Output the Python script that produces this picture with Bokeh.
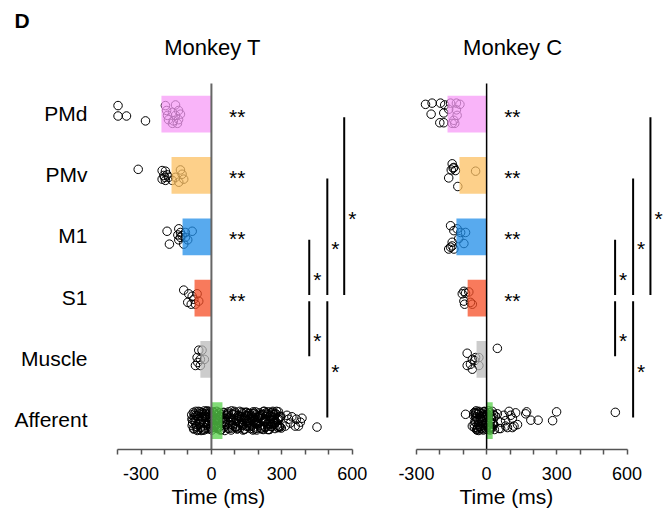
from bokeh.plotting import figure
from bokeh.layouts import row
from bokeh.models import Range1d, FixedTicker, Title
from bokeh.core.properties import value
from bokeh.embed import file_html
from bokeh.resources import INLINE

FONT = "Liberation Sans"

REGIONS = ["PMd", "PMv", "M1", "S1", "Muscle", "Afferent"]
BAR_COLORS = ["#F79BF7", "#FCC063", "#208EE8", "#F54E26", "#BBBBBB", "#58D04B"]

# Monkey T: median onset (ms) per region
T_BARS = [-213, -170, -123, -72, -47, 47]
# Monkey C
C_BARS = [-167, -116, -129, -81, -43, 26]

# ---- Monkey T individual units (ms) and vertical jitter (row units) ----
T_PMd_ms = [-398, -398, -362, -281, -196, -153, -140, -166, -187, -153, -132, -183, -162, -140, -166, -145, -191]
T_PMd_dy = [0.14, -0.03, -0.03, -0.11, 0.14, 0.15, 0.06, 0.03, -0.02, -0.02, 0.0, -0.09, -0.11, -0.09, -0.15, -0.15, 0.06]
T_PMv_ms = [-312, -210, -196, -203, -189, -210, -196, -182, -199, -132, -118, -139, -153, -167, -125]
T_PMv_dy = [0.10, 0.08, 0.07, 0.0, 0.01, -0.06, -0.08, -0.03, -0.03, 0.09, -0.06, -0.11, -0.03, -0.08, 0.02]
T_M1_ms = [-189, -179, -139, -132, -143, -132, -139, -125, -111, -82, -101, -111, -118]
T_M1_dy = [0.09, -0.12, 0.13, 0.07, 0.03, -0.01, -0.05, 0.02, 0.07, 0.09, -0.05, -0.01, -0.12]
T_S1_ms = [-118, -97, -101, -86, -75, -61, -54, -68, -82]
T_S1_dy = [0.13, 0.07, -0.07, -0.10, -0.02, 0.07, -0.05, -0.10, 0.03]
T_Mus_ms = [-54, -40, -61, -47, -30, -68, -47, -58]
T_Mus_dy = [0.15, 0.15, 0.03, 0.0, 0.0, -0.10, -0.10, -0.05]
T_Aff_ms = [
    -84, -82, -79, -77, -74, -71, -69, -66, -63, -61, -58, -56, -53, -50, -48,
    -45, -43, -40, -37, -35, -32, -29, -27, -24, -21, -19, -16, -13, -11, -8,
    -6, -3, -1, 2, 4, 7, 10, 12, 15, 18, 20, 23, 26, 28, 31, 34, 37, 40, 43, 46,
    49, 52, 55, 58, 61,
    -80, -72, -65, -57, -49, -41, -33, -25, -17, -9, -2, 6, 14, 22, 30, 38, 46, 54,
    65, 69, 73, 76, 80, 84, 88, 91, 95, 99, 103, 106, 110, 114, 118, 121, 125, 129,
    133, 136, 140, 144, 148, 151, 155, 159, 163, 166, 170, 174, 178, 181, 185, 189,
    193, 196, 200, 204, 208, 211, 215, 219, 223, 226, 230, 234, 238, 241, 245, 249,
    253, 256, 260, 264, 268, 271, 275, 279, 283, 286, 290, 294, 298,
    78, 97, 112, 127, 146, 161, 176, 191, 206, 221, 236, 251, 266, 281, 296, 150, 185, 230, 262,
    322, 343, 362, 379, 357, 371, 336, 315, 386, 329, 450,
    -83, -76, -68, -62, -54, -46, -39, -31, -23, -15, -7, 0, 8, 16, 24, 32, 41, 50, 59, 67,
    74, 82, 90, 98, 105, 113, 120, 128, 135, 143, 150, 158, 165, 173, 180, 188, 195, 203,
    210, 218, 225, 233, 240, 248, 255, 263, 270, 278, 285, 292, -70, -44, -18, 9, 35, 57,
    86, 108, 131, 154, 177, 199, 222, 244, 267, 289, -60, -30, 0, 27, 52,
    82, 93, 101, 117, 124, 138, 142, 157, 168, 172, 183, 194, 201, 213, 216, 228, 232, 243,
    247, 258, 261, 272, 276, 287, 293, 70, 88, 104, 119, 134, 149, 164, 179, 194, 209, 224,
    239, 254, 269, 284,
]
T_Aff_dy = [
    0.12, -0.10, 0.02, 0.17, -0.16, 0.07, -0.03, 0.19, -0.12, 0.10, -0.18, 0.04, 0.14, -0.07, 0.18,
    -0.14, 0.0, 0.09, -0.19, 0.15, -0.05, 0.11, -0.15, 0.03, 0.18, -0.10, 0.07, -0.17, 0.13, -0.02,
    0.16, -0.12, 0.05, -0.19, 0.10, -0.06, 0.17, -0.14, 0.02, 0.12, -0.09, 0.19, -0.16, 0.06, -0.03,
    0.15, -0.11, 0.08, -0.18, 0.13, -0.01, 0.17, -0.13, 0.04, -0.08,
    -0.05, 0.14, -0.13, 0.09, -0.02, 0.16, -0.17, 0.08, -0.07, 0.19, -0.15, 0.01, 0.15, -0.12, 0.11, -0.19, 0.05, -0.04,
    0.10, -0.15, 0.18, -0.04, 0.07, -0.19, 0.13, -0.09, 0.02, 0.16, -0.12, 0.05, -0.17, 0.11, -0.01,
    0.19, -0.14, 0.08, -0.06, 0.14, -0.18, 0.03, 0.17, -0.11, 0.09, -0.03, 0.15, -0.16, 0.06, -0.08,
    0.18, -0.13, 0.01, 0.12, -0.19, 0.07, -0.05, 0.16, -0.10, 0.04, -0.17, 0.13, -0.02, 0.19, -0.14,
    0.09, -0.07, 0.15, -0.18, 0.02, 0.11, -0.12, 0.17, -0.04, 0.06, -0.16, 0.14, -0.09, 0.01, 0.18,
    -0.11, 0.08, -0.15,
    -0.08, 0.12, -0.16, 0.04, 0.10, -0.12, 0.15, -0.02, 0.08, -0.18, 0.12, -0.06, 0.03, -0.13, 0.09, 0.0, -0.05, 0.02, 0.19,
    0.11, 0.08, 0.03, -0.03, -0.11, -0.11, -0.05, -0.11, 0.05, 0.03, -0.13,
    0.03, -0.17, 0.11, -0.08, 0.19, -0.13, 0.06, -0.19, 0.14, -0.04, 0.09, -0.15, 0.18, -0.10, 0.01,
    0.16, -0.18, 0.07, -0.02, 0.12, -0.16, 0.04, -0.09, 0.19, -0.13, 0.10, -0.03, 0.17, -0.19, 0.06,
    -0.11, 0.14, -0.06, 0.02, -0.17, 0.18, -0.08, 0.11, -0.15, 0.05, -0.01, 0.16, -0.18, 0.09, -0.12,
    0.13, -0.05, 0.19, -0.14, 0.07, 0.0, -0.20, 0.20, -0.09, 0.09, -0.20, 0.20, 0.0, -0.10, 0.10,
    -0.19, 0.06, 0.19, -0.06, 0.12, -0.12, -0.20, 0.20, 0.0, -0.14, 0.16,
    0.0, 0.14, -0.14, 0.07, -0.07, 0.17, -0.17, 0.0, 0.10, -0.10, 0.15, -0.05, 0.05, -0.15, 0.12,
    -0.12, 0.02, 0.18, -0.18, 0.08, -0.08, 0.13, -0.03, 0.03, -0.13, 0.15, -0.15, 0.0, 0.09, -0.09,
    0.17, -0.02, 0.06, -0.16, 0.11, 0.0, -0.11, 0.16, -0.06, 0.04,
]

# ---- Monkey C ----
C_PMd_ms = [-261, -233, -197, -179, -237, -183, -200, -183, -154, -129, -114, -129, -126, -140, -136, -147, -162]
C_PMd_dy = [0.16, 0.18, 0.18, 0.15, 0.0, 0.02, -0.14, -0.14, 0.18, 0.18, 0.16, 0.07, -0.02, -0.10, -0.15, -0.15, 0.08]
C_PMv_ms = [-147, -140, -151, -133, -162, -123, -47, -143]
C_PMv_dy = [0.19, 0.13, 0.09, 0.08, -0.04, -0.18, 0.07, 0.12]
C_M1_ms = [-154, -140, -147, -154, -140, -162, -147, -111, -90, -119, -97, -126]
C_M1_dy = [0.18, 0.10, -0.09, -0.17, -0.20, -0.20, -0.15, 0.07, 0.07, -0.03, -0.11, 0.13]
C_S1_ms = [-97, -104, -90, -94, -97, -69, -61, -76]
C_S1_dy = [0.11, 0.07, 0.08, -0.10, -0.05, -0.07, -0.10, 0.10]
C_Mus_ms = [46, -83, -61, -69, -83, -61, -47, -33, -33, -51]
C_Mus_dy = [0.18, 0.10, 0.0, -0.08, -0.10, -0.16, 0.03, -0.10, 0.03, -0.02]
C_Aff_ms = [
    550, 299, 282, 220, 189, 171, 167, 124, 96, 110, 132, 110, 89, 81, 60, 74, 53, 46, 31,
    -90, -54, -61, -40, -47,
    -55, -52, -49, -46, -43, -41, -38, -35, -33, -30, -27, -25, -22, -19, -17,
    -14, -11, -9, -6, -3, -1, 2, 5, 7, 10, 13, 15, 18, 21, 24, 27, 30, 33,
    -50, -44, -36, -28, -20, -12, -4, 4, 12, 20, 28, 36,
    60, 81, 117, 103,
    -53, -47, -42, -37, -32, -26, -21, -16, -10, -5, 0, 6, 11, 16, 22,
    -45, -34, -23, -13, -2, 9, 19, 29, -39, -8, 14,
]
C_Aff_dy = [
    0.17, 0.18, 0.0, 0.01, 0.01, 0.18, 0.14, 0.16, 0.19, 0.05, -0.08, -0.14, -0.14, 0.0, -0.03, 0.11, -0.16, 0.14, -0.08,
    0.13, 0.16, -0.11, -0.16, 0.08,
    0.10, -0.14, 0.17, -0.03, 0.06, -0.18, 0.13, -0.08, 0.19, -0.12, 0.04, -0.16, 0.15, -0.01, 0.09,
    -0.19, 0.12, -0.06, 0.18, -0.15, 0.02, 0.14, -0.10, 0.07, -0.17, 0.16, -0.04, 0.11, -0.13, 0.19, -0.07, 0.05, -0.18,
    -0.02, 0.15, -0.11, 0.08, -0.17, 0.18, -0.09, 0.12, -0.14, 0.03, -0.06, 0.10,
    -0.16, -0.11, -0.11, 0.11,
    -0.08, 0.15, -0.19, 0.03, 0.17, -0.12, 0.08, -0.02, 0.19, -0.17, 0.12, -0.07, 0.16, -0.13, 0.04,
    0.20, -0.20, 0.0, -0.10, -0.05, 0.20, -0.16, 0.13, -0.14, 0.06, -0.19,
]

T_POINTS = [(T_PMd_ms, T_PMd_dy), (T_PMv_ms, T_PMv_dy), (T_M1_ms, T_M1_dy),
            (T_S1_ms, T_S1_dy), (T_Mus_ms, T_Mus_dy), (T_Aff_ms, T_Aff_dy)]
C_POINTS = [(C_PMd_ms, C_PMd_dy), (C_PMv_ms, C_PMv_dy), (C_M1_ms, C_M1_dy),
            (C_S1_ms, C_S1_dy), (C_Mus_ms, C_Mus_dy), (C_Aff_ms, C_Aff_dy)]

# significance: each region vs. shuffle (double star) and pairwise brackets
SIG_REGIONS = ["PMd", "PMv", "M1", "S1"]
STAR_X = 110
COMPARISONS = [("M1", "S1", 0), ("S1", "Muscle", 0), ("PMv", "S1", 1),
               ("S1", "Afferent", 1), ("PMd", "S1", 2)]
T_BRACKET_X = [417, 494, 566]
C_BRACKET_X = [549, 626, 700]

T_TICKS = [-400, -300, -200, -100, 0, 100, 200, 300, 400, 500, 600]
C_TICKS = [-300, -200, -100, 0, 100, 200, 300, 400, 500, 600]
TICK_LABELS = {-300: "-300", 0: "0", 300: "300", 600: "600"}

ROW_Y = {r: 5 - i for i, r in enumerate(REGIONS)}
Y_LOW, Y_TOP_DATA, Y_HIGH = -0.47, 5.5, 6.854
AFF_JITTER = 0.8   # afferent cloud is a little flatter


def make_panel(title, bars, points, brackets, xr, ticks, width,
               zero_color, zero_width, title_x, xlabel_offset, region_label_x=None):
    p = figure(width=width, height=518, x_range=Range1d(*xr),
               y_range=Range1d(Y_LOW, Y_HIGH), output_backend="svg",
               toolbar_location=None, title=None, y_axis_location=None,
               min_border_left=0, min_border_right=0,
               min_border_top=0, min_border_bottom=69)
    p.outline_line_color = None
    p.xgrid.visible = False
    p.ygrid.visible = False
    p.background_fill_color = "white"
    p.border_fill_color = "white"

    # individual units
    for region, (ms, dy) in zip(REGIONS, points):
        k = AFF_JITTER if region == "Afferent" else 1.0
        ys = [ROW_Y[region] + d * k for d in dy]
        p.scatter(x=ms, y=ys, marker="circle", size=8.5, fill_color=None,
                  line_color="black", line_width=1)
    # median bars drawn over the points, semi transparent
    p.hbar(y=[ROW_Y[r] for r in REGIONS], left=0, right=bars, height=0.6,
           fill_color=BAR_COLORS, fill_alpha=0.75, line_color=None)

    # zero line
    p.segment(x0=[0], y0=[Y_LOW], x1=[0], y1=[Y_TOP_DATA],
              line_color=zero_color, line_width=zero_width)

    # ** per region
    p.text(x=[STAR_X] * len(SIG_REGIONS), y=[ROW_Y[r] for r in SIG_REGIONS],
           text=["**"] * len(SIG_REGIONS), text_font=value(FONT),
           text_font_size="21px", text_align="center", text_baseline="middle",
           y_offset=2, text_color="black")

    # brackets
    x0s, y0s, y1s, smid = [], [], [], []
    for a, b, k in COMPARISONS:
        ya = ROW_Y[a] - 0.05
        yb = ROW_Y[b] + 0.05
        x0s.append(brackets[k])
        y0s.append(ya)
        y1s.append(yb)
        smid.append((ya + yb) / 2)
    p.segment(x0=x0s, y0=y0s, x1=x0s, y1=y1s, line_color="black", line_width=2)
    p.text(x=x0s, y=smid, text=["*"] * len(x0s), text_font=value(FONT),
           text_font_size="21px", text_align="left", text_baseline="middle",
           x_offset=4, y_offset=12, text_color="black")

    # region names
    if region_label_x is not None:
        p.text(x=[region_label_x] * len(REGIONS), y=[ROW_Y[r] for r in REGIONS],
               text=REGIONS, text_font=value(FONT), text_font_size="21px",
               text_align="right", text_baseline="middle", y_offset=-1,
               text_color="black")

    # panel title
    p.text(x=[title_x], y=[6.08], text=[title], text_font=value(FONT),
           text_font_size="22px", text_align="center",
           text_baseline="alphabetic", text_color="black")

    # x axis
    ax = p.xaxis[0]
    ax.ticker = FixedTicker(ticks=ticks, minor_ticks=[])
    ax.major_label_overrides = {t: TICK_LABELS.get(t, "") for t in ticks}
    ax.bounds = (ticks[0], ticks[-1])
    ax.axis_label = None
    ax.major_label_text_font = FONT
    ax.major_label_text_font_size = "18px"
    ax.major_label_text_color = "black"
    ax.major_label_standoff = 12
    ax.axis_line_color = "#555555"
    ax.axis_line_width = 1.5
    ax.major_tick_line_color = "#555555"
    ax.major_tick_line_width = 1.5
    ax.major_tick_out = 5
    ax.major_tick_in = 0
    ax.minor_tick_line_color = None

    p.add_layout(Title(text="Time (ms)", align="left", offset=xlabel_offset,
                       vertical_align="top", standoff=4, text_font=FONT,
                       text_font_size="21px", text_font_style="normal",
                       text_color="black"), "below")
    return p


p1 = make_panel("Monkey T", T_BARS, T_POINTS, T_BRACKET_X, (-899, 742), T_TICKS,
                385, "#666666", 2, 5, 171, region_label_x=-528)
p1.text(x=[-839], y=[6.53], text=["D"], text_font=value(FONT), text_font_size="21px",
        text_font_style="bold", text_align="left", text_baseline="alphabetic",
        text_color="black")
p2 = make_panel("Monkey C", C_BARS, C_POINTS, C_BRACKET_X, (-432, 790), C_TICKS,
                286, "black", 1.5, 111, 74)

layout = row(p1, p2, spacing=0)
open("out.html", "w").write(file_html(layout, INLINE))
